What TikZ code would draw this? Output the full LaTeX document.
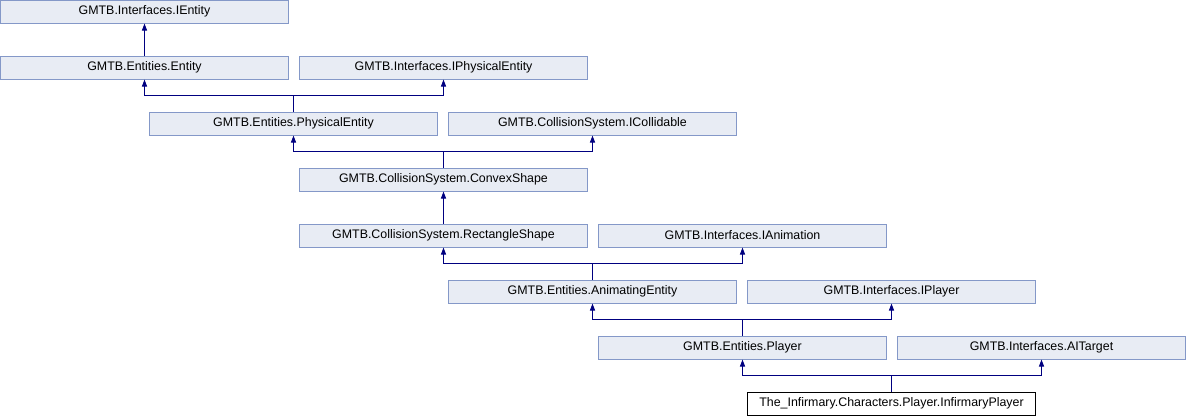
\documentclass[tikz,border=0pt]{standalone}
\usepackage{fontspec}
\setmainfont{Liberation Sans}
\usetikzlibrary{arrows.meta}
\definecolor{boxfill}{RGB}{232,236,244}
\definecolor{boxdraw}{RGB}{132,152,200}
\definecolor{edgecol}{RGB}{0,0,128}
\tikzset{
  cls/.style={draw=boxdraw, fill=boxfill, line width=1pt, minimum width=288pt, minimum height=23pt, inner sep=0pt, font=\fontsize{12.4}{14}\selectfont},
  mainc/.style={cls, draw=black, fill=white},
  inh/.style={draw=edgecol, line width=1pt, -{Triangle[length=7pt,width=5pt]}},
}
\begin{document}
\begin{tikzpicture}[x=1pt,y=-1pt]
\useasboundingbox (0,0) rectangle (1186,416);
\node[cls] (ientity) at (144.5,11.5) {GMTB.Interfaces.IEntity};
\node[cls] (entity) at (144.5,67.5) {GMTB.Entities.Entity};
\node[cls] (iphys) at (443.5,67.5) {GMTB.Interfaces.IPhysicalEntity};
\node[cls] (phys) at (293.5,123.5) {GMTB.Entities.PhysicalEntity};
\node[cls] (icoll) at (592.5,123.5) {GMTB.CollisionSystem.ICollidable};
\node[cls] (convex) at (443.5,179.5) {GMTB.CollisionSystem.ConvexShape};
\node[cls] (rect) at (443.5,235.5) {GMTB.CollisionSystem.RectangleShape};
\node[cls] (ianim) at (742.5,235.5) {GMTB.Interfaces.IAnimation};
\node[cls] (anim) at (592.5,291.5) {GMTB.Entities.AnimatingEntity};
\node[cls] (iplayer) at (891.5,291.5) {GMTB.Interfaces.IPlayer};
\node[cls] (player) at (742.5,347.5) {GMTB.Entities.Player};
\node[cls] (aitarget) at (1041.5,347.5) {GMTB.Interfaces.AITarget};
\node[mainc] (infirm) at (891.5,403.5) {The\_Infirmary.Characters.Player.InfirmaryPlayer};

\draw[inh] (entity.north) -- (ientity.south);
\draw[inh] (phys.north) -- ++(0,-16) -| (entity.south);
\draw[inh] (phys.north) -- ++(0,-16) -| (iphys.south);
\draw[inh] (convex.north) -- ++(0,-16) -| (phys.south);
\draw[inh] (convex.north) -- ++(0,-16) -| (icoll.south);
\draw[inh] (rect.north) -- (convex.south);
\draw[inh] (anim.north) -- ++(0,-16) -| (rect.south);
\draw[inh] (anim.north) -- ++(0,-16) -| (ianim.south);
\draw[inh] (player.north) -- ++(0,-16) -| (anim.south);
\draw[inh] (player.north) -- ++(0,-16) -| (iplayer.south);
\draw[inh] (infirm.north) -- ++(0,-16) -| (player.south);
\draw[inh] (infirm.north) -- ++(0,-16) -| (aitarget.south);
\end{tikzpicture}
\end{document}
